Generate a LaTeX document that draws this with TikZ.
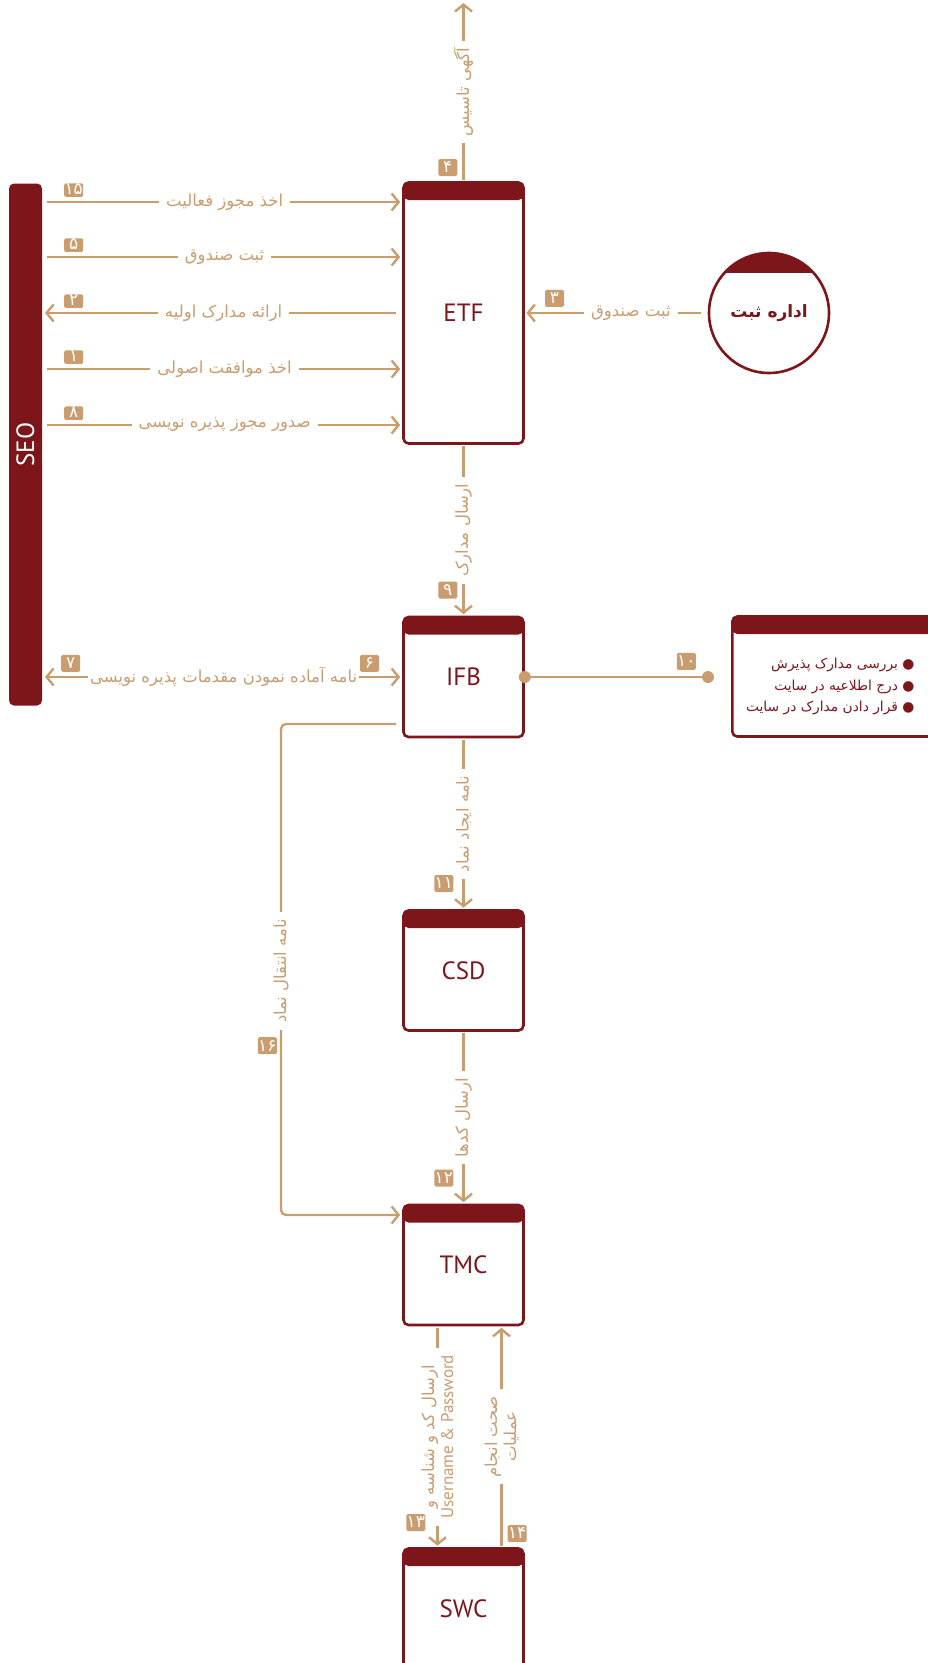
\documentclass[tikz,border=0pt]{standalone}
\usepackage{fontspec}
\setmainfont{PT Sans}
\newfontfamily\fafont[Script=Arabic]{DejaVu Sans}
\TeXXeTstate=1
\usetikzlibrary{arrows.meta}
\definecolor{wine}{RGB}{124,22,27}
\definecolor{sand}{RGB}{201,157,112}
\newcommand{\rl}[1]{\beginR #1\endR}

\tikzset{
  procbox/.style={draw=wine, line width=2.6pt, rounded corners=5pt, fill=white,
    minimum width=120pt, minimum height=120pt, text=wine,
    font=\fontsize{25}{28}\selectfont,
    path picture={\fill[wine] (path picture bounding box.north west) rectangle ([yshift=-17.5pt]path picture bounding box.north east);}},
  flow/.style={draw=sand, line width=2.4pt, ->},
  lbl/.style={fill=white, text=sand, inner xsep=7pt, inner ysep=2pt,
    font=\fafont\fontsize{16.5}{19}\selectfont},
  badge/.style={fill=sand, text=white, rounded corners=1.5pt, inner sep=0pt,
    minimum width=19pt, minimum height=17pt, font=\fafont\fontsize{17}{17}\selectfont},
  rowbadge/.style={badge, minimum height=13.5pt, text height=9pt, text depth=0pt},
}

\begin{document}
\begin{tikzpicture}[x=1pt, y=-1pt, >={Straight Barb[length=7pt,width=17pt]}]
  \useasboundingbox (0,0) rectangle (928,1663);

  %%%%% boxes %%%%%
  \node[fill=wine, rounded corners=5pt, rotate=90, minimum width=522pt, minimum height=33pt,
    text=white, font=\fontsize{25}{28}\selectfont] (seo) at (25.5,444.5) {SEO};

  \node[procbox, minimum height=261pt] (etf) at (463.5,313) {ETF};
  \node[procbox] (ifb) at (463.5,677) {IFB};
  \node[procbox] (csd) at (463.5,970.5) {CSD};
  \node[procbox] (tmc) at (463.5,1265) {TMC};
  \node[procbox] (swc) at (463.5,1608.5) {SWC};

  \node[circle, draw=wine, line width=2.6pt, fill=white, minimum size=120pt, text=wine,
    font=\fafont\bfseries\fontsize{17}{22}\selectfont,
    path picture={\fill[wine] ([yshift=40pt]path picture bounding box.west) rectangle (path picture bounding box.north east);}]
    (reg) at (769,313) {\rl{اداره ثبت}};

  \node[draw=wine, line width=2.6pt, rounded corners=5pt, minimum width=230pt, minimum height=120pt, anchor=west,
    path picture={\fill[wine] (path picture bounding box.north west) rectangle ([yshift=-17.5pt]path picture bounding box.north east);}]
    (docs) at (731,676.5) {};
  \node[text=wine, align=right, anchor=east, font=\fafont\fontsize{13.8}{21.5}\selectfont] (doclist) at (918,686.5)
    {\rl{● بررسی مدارک پذیرش}\\\rl{● درج اطلاعیه در سایت}\\\rl{● قرار دادن مدارک در سایت}};

  %%%%% SEO <-> ETF %%%%%
  \coordinate (s15) at (47,202);
  \coordinate (s5) at (47,257);
  \coordinate (s2) at (45,313);
  \coordinate (s1) at (47,369);
  \coordinate (s8) at (47,425);

  \draw[flow, shorten >=2pt] (s15) -- (etf.west |- s15)
    node[lbl, midway] (l15) {\rl{اخذ مجوز فعالیت}}
    node[rowbadge, pos=0, anchor=south west, xshift=16pt, yshift=4pt] (b15) {۱۵};
  \draw[flow, shorten >=2pt] (s5) -- (etf.west |- s5)
    node[lbl, midway] (l5) {\rl{ثبت صندوق}}
    node[rowbadge, pos=0, anchor=south west, xshift=16pt, yshift=4pt] (b5) {۵};
  \draw[flow, shorten <=6pt] (etf.west |- s2) -- (s2)
    node[lbl, midway] (l2) {\rl{ارائه مدارک اولیه}}
    node[rowbadge, pos=1, anchor=south west, xshift=18pt, yshift=4pt] (b2) {۲};
  \draw[flow, shorten >=2pt] (s1) -- (etf.west |- s1)
    node[lbl, midway] (l1) {\rl{اخذ موافقت اصولی}}
    node[rowbadge, pos=0, anchor=south west, xshift=16pt, yshift=4pt] (b1) {۱};
  \draw[flow, shorten >=2pt] (s8) -- (etf.west |- s8)
    node[lbl, midway] (l8) {\rl{صدور مجوز پذیره نویسی}}
    node[rowbadge, pos=0, anchor=south west, xshift=16pt, yshift=4pt] (b8) {۸};

  %%%%% ETF up, registry %%%%%
  \coordinate (adv) at (463.5,3);
  \draw[flow, shorten <=1.5pt] (etf.north) -- (adv)
    node[lbl, rotate=90, midway] (l4) {\rl{آگهی تاسیس}}
    node[badge, pos=0, anchor=south east, xshift=-5pt, yshift=4pt] (b4) {۴};

  \draw[flow, shorten <=7pt, shorten >=1.5pt] (reg) -- (etf)
    node[lbl, pos=0.42] (l3) {\rl{ثبت صندوق}}
    node[badge, pos=1, anchor=south west, xshift=19pt, yshift=5pt] (b3) {۳};

  %%%%% ETF -> IFB %%%%%
  \draw[flow, shorten <=1.5pt, shorten >=1.5pt] (etf.south) -- (ifb.north)
    node[lbl, rotate=90, midway] (l9) {\rl{ارسال مدارک}}
    node[badge, pos=1, anchor=south east, xshift=-5pt, yshift=16pt] (b9) {۹};

  \coordinate (s7) at (45,677);
  \draw[flow, <->, shorten >=2pt] (s7) -- (ifb.west)
    node[lbl, midway, inner xsep=2pt] (l6) {\rl{نامه آماده نمودن مقدمات پذیره نویسی}}
    node[badge, pos=0, anchor=south west, xshift=15pt, yshift=4pt] (b7) {۷}
    node[badge, pos=1, anchor=south east, xshift=-22pt, yshift=4pt] (b6) {۶};

  \coordinate (d10) at (708,677);
  \draw[sand, line width=2.4pt] (ifb.east) -- (d10)
    node[badge, pos=1, anchor=south east, xshift=-11pt, yshift=6pt] (b10) {۱۰};
  \fill[sand] (ifb.east) circle[radius=6pt];
  \fill[sand] (d10) circle[radius=6pt];

  %%%%% IFB -> CSD -> TMC %%%%%
  \draw[flow, shorten <=1.5pt, shorten >=1.5pt] (ifb.south) -- (csd.north)
    node[lbl, rotate=90, midway] (l11) {\rl{نامه ایجاد نماد}}
    node[badge, pos=1, anchor=south east, xshift=-9pt, yshift=16pt] (b11) {۱۱};
  \draw[flow, shorten <=1.5pt, shorten >=1.5pt] (csd.south) -- (tmc.north)
    node[lbl, rotate=90, midway] (l12) {\rl{ارسال کدها}}
    node[badge, pos=1, anchor=south east, xshift=-9pt, yshift=16pt] (b12) {۱۲};

  \coordinate (k16) at (281,971);
  \draw[flow, rounded corners=5pt, shorten >=2pt] ([shift={(-6pt,-47pt)}]ifb.west) -| (k16) |- ([yshift=50pt]tmc.west);
  \node[lbl, rotate=90] (l16) at (k16) {\rl{نامه انتقال نماد}};
  \node[badge, anchor=north east] (b16) at ([shift={(-4pt,-66pt)}]k16) {۱۶};

  %%%%% TMC <-> SWC %%%%%
  \draw[flow, shorten <=1.5pt, shorten >=1.5pt] ([xshift=-26pt]tmc.south) -- ([xshift=-26pt]swc.north)
    node[lbl, rotate=90, midway, align=center] (l13) {\rl{ارسال کد و شناسه و}\\{\rmfamily\fontsize{17}{19}\selectfont Username \& Password}}
    node[badge, pos=1, anchor=south east, xshift=-11pt, yshift=15pt] (b13) {۱۳};
  \draw[flow, shorten <=1.5pt, shorten >=1.5pt] ([xshift=38pt]swc.north) -- ([xshift=38pt]tmc.south)
    node[lbl, rotate=90, midway, align=center] (l14) {\rl{صحت انجام}\\\rl{عملیات}}
    node[badge, pos=0, anchor=south west, xshift=5pt, yshift=4pt] (b14) {۱۴};
\end{tikzpicture}
\end{document}
